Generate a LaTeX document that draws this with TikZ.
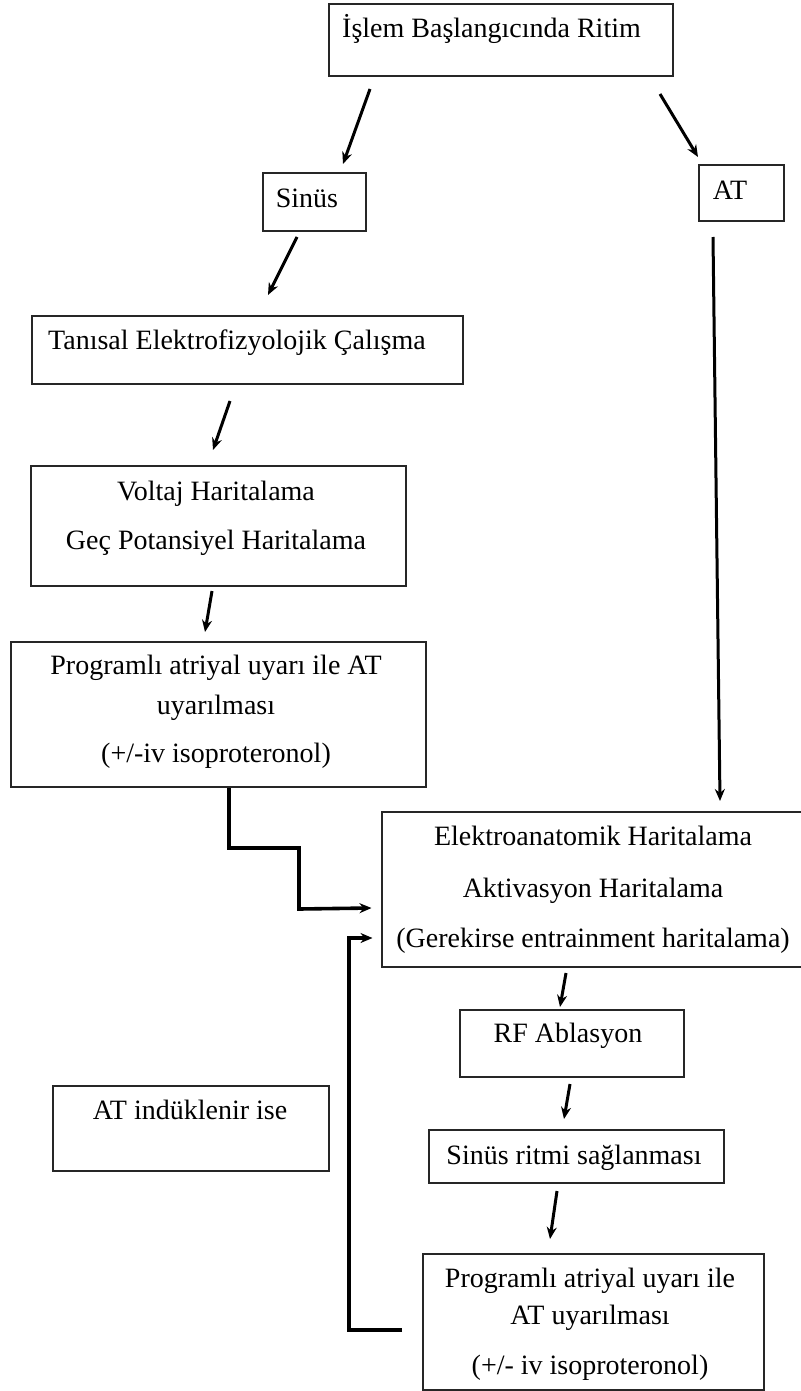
\documentclass[tikz,border=0pt]{standalone}
\usepackage{fontspec}
\setmainfont{Liberation Serif}
\usetikzlibrary{arrows.meta}
\begin{document}
\begin{tikzpicture}[x=1pt,y=-1pt,
  box/.style={draw=black!85,line width=2pt,rectangle,inner sep=0pt},
  lbl/.style={inner sep=0pt,font=\fontsize{28}{32}\selectfont,anchor=mid},
  arr/.style={line width=3pt,-{Stealth[length=12pt,width=10pt]}},
  elbow/.style={line width=3.6pt}]
\useasboundingbox (0,0) rectangle (800,1391);
\fill[white] (0,0) rectangle (800,1391);
% boxes
\node[box,minimum width=344pt,minimum height=72pt] (top) at (501,40) {};
\node[box,minimum width=103pt,minimum height=58pt] (sin) at (314.5,202) {};
\node[box,minimum width=85pt,minimum height=56pt] (at) at (741.5,193) {};
\node[box,minimum width=431pt,minimum height=68pt] (tan) at (247.5,350) {};
\node[box,minimum width=375pt,minimum height=120pt] (volt) at (218.5,526) {};
\node[box,minimum width=415pt,minimum height=145pt] (progA) at (218.5,714.5) {};
\node[box,minimum width=420pt,minimum height=155pt] (elek) at (591.5,889.5) {};
\node[box,minimum width=224pt,minimum height=67pt] (rf) at (572,1043.5) {};
\node[box,minimum width=276pt,minimum height=85pt] (ind) at (191,1128.5) {};
\node[box,minimum width=295pt,minimum height=53pt] (sr) at (576.5,1156.5) {};
\node[box,minimum width=341pt,minimum height=136pt] (progB) at (593.5,1322) {};
% texts
\node[lbl,anchor=mid west] (topT) at (342,35) {İşlem Başlangıcında Ritim};
\node[lbl] (sinT) at (307,205) {Sinüs};
\node[lbl] (atT) at (730,197) {AT};
\node[lbl,anchor=mid west] (tanT) at (48,347) {Tanısal Elektrofizyolojik Çalışma};
\node[lbl] (voltT1) at (216,498) {Voltaj Haritalama};
\node[lbl] (voltT2) at (216,547) {Geç Potansiyel Haritalama};
\node[lbl] (progAT1) at (216,672) {Programlı atriyal uyarı ile AT};
\node[lbl] (progAT2) at (216,712) {uyarılması};
\node[lbl] (progAT3) at (216,760) {(+/-iv isoproteronol)};
\node[lbl] (elekT1) at (593,843) {Elektroanatomik Haritalama};
\node[lbl] (elekT2) at (593,895) {Aktivasyon Haritalama};
\node[lbl] (elekT3) at (593,945) {(Gerekirse entrainment haritalama)};
\node[lbl] (rfT) at (568,1040) {RF Ablasyon};
\node[lbl] (indT) at (190,1117) {AT indüklenir ise};
\node[lbl] (srT) at (574,1162) {Sinüs ritmi sağlanması};
\node[lbl] (progBT1) at (590,1285) {Programlı atriyal uyarı ile};
\node[lbl] (progBT2) at (590,1322) {AT uyarılması};
\node[lbl] (progBT3) at (590,1372) {(+/- iv isoproteronol)};
% connectors
\draw[arr] ([shift={(-131,12)}]top.south) -- ([shift={(28.5,-8)}]sin.north);
\draw[arr] ([shift={(159,17)}]top.south) -- ([shift={(-43.5,-7)}]at.north);
\draw[arr] ([shift={(-17.5,5)}]sin.south) -- ([shift={(20.5,-20)}]tan.north);
\draw[arr] ([shift={(-28.5,15)}]at.south) -- ([shift={(720-591.5,-10)}]elek.north);
\draw[arr] ([shift={(-17.5,16)}]tan.south) -- ([shift={(-5.5,-15)}]volt.north);
\draw[arr] ([shift={(-6.5,4)}]volt.south) -- ([shift={(-13.5,-9)}]progA.north);
\draw[elbow,-{Stealth[length=12pt,width=10pt]}] ([xshift=10.5pt]progA.south) -- ++(0,60) -- ++(70,0) -- ++(0,61) coordinate (e1) -- ([shift={(-9,18.5)}]elek.west);
\draw[arr] ([shift={(-25.5,5)}]elek.south) -- ([shift={(-12,-2)}]rf.north);
\draw[arr] ([shift={(-2,6)}]rf.south) -- ([shift={(-12.5,-10)}]sr.north);
\draw[arr] ([shift={(-19.5,7)}]sr.south) -- ([shift={(-43.5,-14)}]progB.north);
\draw[elbow,-{Stealth[length=12pt,width=10pt]}] ([shift={(-20,8)}]progB.west) -- (349,1330) -- (349,938) -- ([shift={(-8,48.5)}]elek.west);
\end{tikzpicture}
\end{document}
